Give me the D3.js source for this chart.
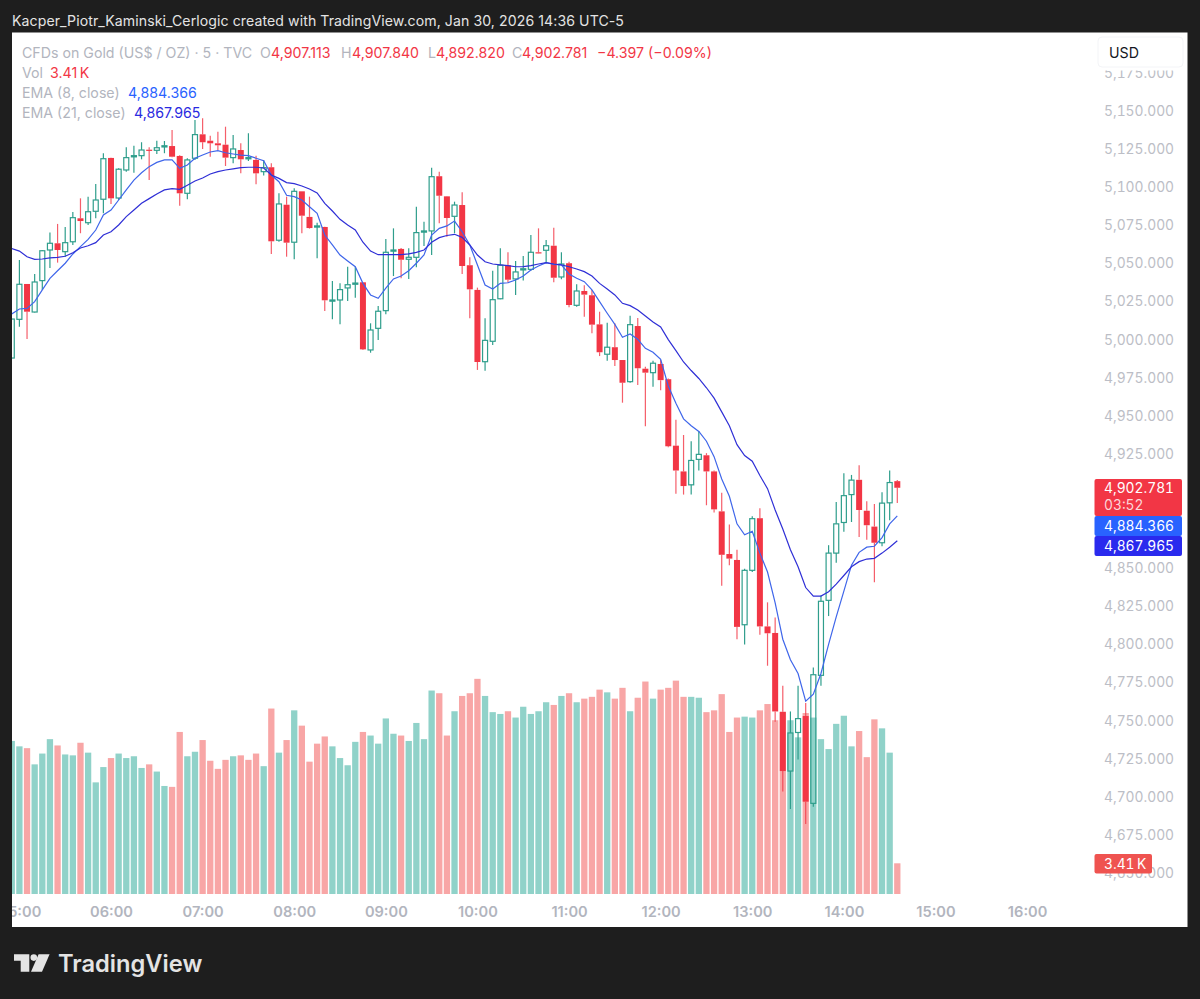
<!DOCTYPE html>
<html><head><meta charset="utf-8">
<script src="https://cdn.jsdelivr.net/npm/d3@7/dist/d3.min.js"></script>
<style>html,body{margin:0;padding:0;background:#1e1e1e;overflow:hidden}svg{display:block}text{font-family:Inter,"Noto Sans",sans-serif}.tn{font-variant-numeric:tabular-nums}</style>
</head><body><svg id="c" width="1200" height="999"></svg>
<script>
const firstBar=-1;
const opens=[4987.9,5013.3,5036.5,5018.1,5038.7,5058.8,5063.2,5057.7,5064.2,5079.6,5076.7,5084.2,5092.1,5119.2,5092.9,5111.3,5120.0,5120.7,5124.6,5124.2,5126.8,5127.0,5120.5,5096.0,5119.0,5134.7,5130.5,5128.8,5127.9,5119.4,5124.4,5119.0,5117.9,5110.2,5113.1,5065.2,5088.5,5063.9,5097.3,5080.5,5073.9,5073.9,5025.3,5026.0,5033.9,5036.5,5037.6,4993.2,5007.4,5019.0,5058.1,5059.5,5052.7,5054.0,5070.6,5071.3,5107.2,5094.0,5080.9,5088.3,5048.8,5032.6,4985.5,4998.9,5026.8,5048.8,5039.8,5046.1,5046.1,5057.3,5058.6,5061.6,5041.1,5050.1,5022.5,5031.9,5029.1,5010.0,4990.4,4995.0,4986.6,4972.4,5008.9,4980.9,4978.3,4984.0,4974.0,4930.4,4913.5,4904.7,4921.4,4924.1,4913.5,4887.3,4859.3,4855.4,4812.9,4848.6,4882.8,4811.8,4807.5,4755.8,4716.9,4742.2,4753.0,4695.7,4779.7,4828.9,4859.9,4880.0,4898.3,4908.0,4887.7,4877.3,4866.7,4892.9,4907.113];
const closes=[5013.5,5036.3,5018.3,5037.8,5058.3,5063.2,5058.8,5063.6,5080.0,5077.8,5083.9,5091.6,5118.7,5092.7,5111.8,5119.4,5120.7,5124.4,5124.1,5125.9,5127.2,5120.0,5096.0,5117.9,5134.5,5129.5,5128.8,5127.5,5119.4,5125.1,5118.3,5119.4,5109.1,5112.8,5064.5,5089.0,5063.6,5097.3,5081.3,5073.2,5074.6,5025.8,5026.0,5032.8,5036.0,5037.1,4993.6,5006.3,5018.6,5057.3,5058.8,5052.4,5054.0,5070.2,5071.3,5106.9,5094.4,5079.8,5088.3,5048.3,5033.0,4985.3,4999.5,5026.2,5048.8,5039.3,5044.4,5046.5,5057.3,5056.6,5061.6,5040.6,5049.6,5022.7,5031.9,5029.5,5009.8,4991.7,4995.0,4986.6,4971.7,5009.8,4981.2,4978.3,4984.5,4973.4,4930.0,4914.1,4903.9,4920.7,4924.7,4913.5,4888.6,4858.8,4856.3,4811.5,4848.6,4882.5,4811.8,4807.3,4756.0,4716.9,4741.9,4751.3,4696.8,4780.1,4828.3,4859.9,4879.1,4897.6,4907.8,4888.2,4878.2,4866.7,4892.7,4906.2,4902.781];
const highs=[5013.5,5052.2,5036.5,5043.1,5058.8,5070.2,5075.9,5073.9,5083.7,5092.7,5093.8,5102.1,5122.3,5119.4,5112.4,5126.2,5127.2,5129.5,5126.2,5130.5,5130.3,5137.5,5120.9,5119.0,5144.1,5145.2,5133.8,5136.4,5139.7,5134.3,5128.8,5135.4,5120.7,5117.9,5115.7,5096.0,5093.8,5099.3,5097.3,5093.8,5076.7,5074.1,5038.5,5037.0,5047.8,5047.8,5037.6,5010.7,5022.1,5066.0,5073.0,5060.1,5059.9,5087.2,5077.4,5112.8,5110.2,5094.2,5090.5,5096.7,5054.0,5034.1,5014.0,5045.2,5059.9,5057.3,5051.6,5054.9,5068.6,5073.0,5065.4,5073.4,5057.3,5051.1,5036.3,5035.6,5032.6,5018.3,5011.1,5010.7,4986.6,5015.7,5014.2,4982.2,4986.2,4986.6,4974.5,4947.4,4937.4,4933.3,4940.1,4925.5,4914.1,4899.5,4878.7,4862.1,4849.7,4884.1,4889.3,4827.6,4817.7,4772.9,4756.0,4772.9,4761.6,4784.9,4832.1,4865.1,4893.4,4912.3,4911.2,4917.5,4894.0,4892.2,4899.9,4914.1,4907.84];
const lows=[4987.9,5008.5,5000.4,5017.8,5032.6,5047.0,5050.5,5054.4,5062.1,5069.8,5075.2,5079.6,5082.9,5089.0,5091.6,5110.2,5109.5,5118.3,5104.7,5121.8,5122.3,5119.6,5087.9,5092.1,5117.9,5125.1,5120.0,5124.4,5113.9,5115.7,5109.1,5117.2,5101.9,5107.6,5056.2,5064.2,5054.4,5052.7,5069.8,5072.8,5053.4,5018.8,5013.3,5010.0,5025.3,5027.5,4993.2,4991.4,4999.7,5016.6,5041.7,5040.2,5039.8,5047.5,5061.4,5055.5,5076.3,5067.5,5069.8,5043.1,5014.0,4980.1,4979.6,4996.5,5026.5,5037.3,5029.3,5038.7,5045.2,5056.5,5050.1,5037.6,5039.6,5021.2,5021.6,5015.0,5004.1,4989.2,4986.2,4982.7,4958.6,4971.7,4970.2,4943.1,4969.1,4966.8,4929.3,4898.8,4898.3,4898.3,4914.1,4891.3,4886.6,4838.5,4852.0,4803.4,4800.0,4847.5,4806.4,4786.0,4749.2,4703.4,4692.0,4724.4,4682.1,4693.4,4772.9,4818.6,4853.6,4873.9,4880.3,4870.5,4868.7,4840.7,4864.4,4881.4,4892.82];
const volumes=[17.0,16.4,16.2,14.4,15.6,17.2,16.5,15.5,15.4,16.8,15.7,12.4,14.1,15.1,15.6,15.1,15.3,14.0,14.4,13.6,12.0,11.9,18.0,15.3,15.8,17.1,14.8,13.9,14.9,15.3,15.4,14.9,15.6,14.2,20.6,15.7,17.1,20.4,18.7,14.7,16.7,17.5,16.4,15.1,14.3,16.9,18.0,17.6,16.7,19.5,17.8,17.6,17.0,19.0,17.2,22.6,22.3,17.6,20.3,22.0,22.3,23.9,22.0,20.2,20.0,20.3,19.6,20.8,20.0,20.3,21.3,21.0,22.0,22.3,21.3,21.7,21.9,22.7,22.4,21.7,22.9,20.3,21.8,23.6,21.7,22.7,22.9,23.7,21.9,21.9,21.8,20.2,20.4,22.2,18.0,19.6,19.7,19.6,20.4,21.1,19.3,20.2,19.3,17.4,20.1,19.6,17.2,16.1,18.9,19.8,16.4,18.1,15.2,19.4,18.4,15.7,3.41];
const volumeDownBars=[1,5,8,12,17,20,21,24,25,26,27,29,30,31,33,35,37,38,39,40,45,50,55,56,58,59,60,64,70,72,74,75,76,78,79,81,82,84,85,86,87,90,91,92,93,94,97,98,99,100,103,110,111,112,115];
const ema8=[5016.8,5020.1,5020.5,5024.9,5032.6,5040.2,5045.2,5050.1,5056.2,5061.0,5065.8,5071.9,5081.8,5085.0,5091.6,5098.2,5104.7,5109.5,5113.5,5116.3,5117.9,5117.9,5112.4,5114.6,5119.0,5121.1,5123.1,5124.0,5122.6,5121.8,5121.1,5120.7,5119.0,5117.4,5108.0,5103.6,5094.7,5093.8,5091.6,5087.2,5082.9,5068.6,5062.1,5055.5,5051.6,5047.8,5036.9,5029.3,5027.1,5033.7,5039.8,5041.7,5045.2,5050.1,5055.5,5068.6,5073.0,5074.6,5077.8,5070.8,5062.1,5049.0,5035.8,5033.2,5036.9,5037.3,5039.1,5041.7,5045.7,5048.3,5050.5,5049.4,5049.0,5043.1,5040.2,5038.0,5032.6,5024.9,5017.3,5010.0,5001.5,5003.7,5000.2,4994.3,4991.7,4987.1,4969.6,4958.2,4948.0,4943.5,4939.7,4933.3,4923.2,4908.5,4897.2,4879.1,4871.9,4874.2,4859.9,4847.5,4827.2,4803.4,4789.9,4780.9,4762.7,4767.3,4780.9,4800.0,4818.1,4835.0,4852.0,4860.4,4863.8,4864.4,4870.1,4879.1,4884.366];
const ema21=[5059.7,5058.1,5054.4,5052.7,5052.9,5053.6,5054.0,5054.7,5057.0,5060.1,5061.6,5063.6,5068.6,5070.8,5075.2,5080.7,5085.0,5089.4,5092.5,5095.5,5098.2,5099.0,5098.6,5101.3,5104.1,5106.0,5108.7,5110.2,5111.3,5112.0,5112.8,5113.1,5113.1,5112.6,5108.0,5105.8,5103.0,5102.3,5100.8,5098.8,5096.2,5089.4,5084.4,5078.9,5075.2,5071.9,5063.9,5058.1,5055.7,5055.7,5055.7,5055.8,5056.2,5057.2,5058.8,5063.9,5066.9,5068.3,5069.1,5067.1,5062.1,5055.5,5051.1,5049.6,5049.0,5048.5,5047.8,5047.9,5048.5,5049.6,5050.5,5049.6,5049.0,5047.8,5046.3,5044.6,5041.7,5036.9,5033.2,5029.3,5023.8,5022.3,5019.4,5015.5,5011.6,5008.3,5000.0,4992.8,4985.3,4979.7,4974.5,4968.4,4961.6,4952.6,4943.5,4931.1,4923.9,4920.2,4910.8,4902.2,4888.2,4875.7,4862.1,4850.9,4837.3,4831.7,4831.7,4834.6,4839.6,4845.2,4850.9,4854.3,4856.0,4856.5,4859.9,4863.8,4867.965];
const priceTicks=[4650,4675,4700,4725,4750,4775,4800,4825,4850,4925,4950,4975,5000,5025,5050,5075,5100,5125,5150,5175];
const timeTickBars=[0,12,24,36,48,60,72,84,96,108,120,132];
const timeTickLabels=["05:00","06:00","07:00","08:00","09:00","10:00","11:00","12:00","13:00","14:00","15:00","16:00"];
const headerText="Kacper_Piotr_Kaminski_Cerlogic created with TradingView.com, Jan 30, 2026 14:36 UTC-5";
const GREY="#b2b5be",UP="#2f9e8c",DOWN="#f23645",EMA8C="#3f66ea",EMA21C="#2f2fd6",VUP="#90d2c9",VDOWN="#f8a6a6";

const svg=d3.select("#c");
const x=d3.scaleLinear().domain([0,115]).range([19.4,897.3]);
const y=d3.scaleLinear().domain([4650,5150]).range([873,111]);
const vol=d3.scaleLinear().domain([0,3.41]).range([894,863.3]);
const bars=d3.range(opens.length).map(k=>({i:k+firstBar,o:opens[k],h:highs[k],l:lows[k],c:closes[k],v:volumes[k],down:volumeDownBars.includes(k+firstBar)}));

svg.append("rect").attr("x",0).attr("y",0).attr("width",1200).attr("height",999).attr("fill","#1e1e1e");
svg.append("rect").attr("x",12).attr("y",32.5).attr("width",1175.5).attr("height",894.5).attr("fill","#fff");
const defs=svg.append("defs");
defs.append("clipPath").attr("id","pane").append("rect").attr("x",12).attr("y",32).attr("width",1176).attr("height",895);
const pane=svg.append("g").attr("clip-path","url(#pane)");

svg.append("text").attr("x",12).attr("y",26).attr("fill","#e4e4e4").attr("font-size",14.1).attr("letter-spacing",0.085).text(headerText);

// axes
const yAxis=d3.axisRight(y).tickValues(priceTicks).tickFormat(d3.format(",.3f")).tickSize(0).tickPadding(0);
const yg=pane.append("g").attr("transform","translate(1104,0)").call(yAxis);
yg.select(".domain").remove();
yg.selectAll("text").attr("class","tn").attr("fill","#bcbec6").attr("font-size",13.8).attr("font-family","Inter");
const xAxis=d3.axisBottom(x).tickValues(timeTickBars).tickFormat((d,k)=>timeTickLabels[k]).tickSize(0).tickPadding(0);
const xg=pane.append("g").attr("transform","translate(0,907)").call(xAxis);
xg.select(".domain").remove();
xg.selectAll("text").attr("fill","#b2b5be").attr("font-size",14.6).attr("font-weight",600).attr("font-family","Inter");

// volume
pane.selectAll("rect.v").data(bars).join("rect").attr("class","v")
 .attr("x",d=>x(d.i)-3.15).attr("width",6.3).attr("y",d=>vol(d.v)).attr("height",d=>894-vol(d.v))
 .attr("fill",d=>d.down?VDOWN:VUP);

// wicks & bodies
const cg=pane.append("g");
bars.forEach(d=>{
 const up=d.c>=d.o, col=up?UP:DOWN;
 const top=Math.max(d.o,d.c), bot=Math.min(d.o,d.c);
 const w=cg.append("g");
 [[d.h,top],[bot,d.l]].forEach(s=>{
  w.append("line").attr("x1",x(d.i)).attr("x2",x(d.i)).attr("y1",y(s[0])).attr("y2",y(s[1]))
   .attr("stroke",col).attr("stroke-width",1.2).attr("stroke-opacity",up?1:.8);
 });
 const yt=y(top), h=Math.max(y(bot)-yt,1.2);
 if(up){
  w.append("rect").attr("x",x(d.i)-2.5).attr("width",5).attr("y",yt).attr("height",h).attr("fill","none").attr("stroke",col).attr("stroke-width",1.2);
 }else{
  w.append("rect").attr("x",x(d.i)-3).attr("width",6).attr("y",yt).attr("height",h).attr("fill",col);
 }
});

// EMA lines
const line=d3.line().x((d,k)=>x(k+firstBar)).y(d=>y(d));
pane.append("path").attr("d",line(ema8)).attr("fill","none").attr("stroke",EMA8C).attr("stroke-width",1.2);
pane.append("path").attr("d",line(ema21)).attr("fill","none").attr("stroke",EMA21C).attr("stroke-width",1.2);

// legend
const lg=svg.append("g").attr("font-size",14.2);
function t(px,py,s,c){return lg.append("text").attr("x",px).attr("y",py).attr("fill",c).text(s);}
t(22,58,"CFDs on Gold (US$ / OZ) · 5 · TVC",GREY);
t(260,58,"O",GREY);t(271,58,"4,907.113",DOWN);
t(341,58,"H",GREY);t(352,58,"4,907.840",DOWN);
t(428,58,"L",GREY);t(436,58,"4,892.820",DOWN);
t(512,58,"C",GREY);t(522,58,"4,902.781",DOWN);
t(597,58,"−4.397 (−0.09%)",DOWN);
t(22,78,"Vol",GREY);t(50,78,"3.41\u202fK",DOWN);
t(22,98,"EMA (8, close)",GREY);t(128,98,"4,884.366","#2962ff");
t(22,118,"EMA (21, close)",GREY);t(134,118,"4,867.965","#2a2ae0");

// USD box
svg.append("rect").attr("x",1094).attr("y",36).attr("width",92).attr("height",34.5).attr("fill","#fff");
svg.append("rect").attr("x",1098).attr("y",37).attr("width",85).attr("height",30).attr("rx",4).attr("fill","#fff").attr("stroke","#f3f4f7");
svg.append("text").attr("x",1109).attr("y",58).attr("font-size",14.2).attr("fill","#131722").text("USD");

// price labels
function lab(px,py,w,h,bg){return svg.append("rect").attr("x",px).attr("y",py).attr("width",w).attr("height",h).attr("rx",2).attr("fill",bg);}
lab(1094.5,479,87.5,37,DOWN);
lab(1094.5,516,87.5,20,"#2962ff");
lab(1094.5,536,87.5,20,"#2a2aee");
lab(1094.5,854,57.5,19.5,"#ef5350");
function lt(py,s,c){svg.append("text").attr("class","tn").attr("x",1104).attr("y",py).attr("font-size",13.8).attr("fill",c).text(s);}
lt(493,"4,902.781","#fff");lt(510,"03:52","#fcd5d8");
lt(531,"4,884.366","#fff");lt(551,"4,867.965","#fff");
lt(869,"3.41\u202fK","#fff");

// logo
const logo=svg.append("g").attr("fill","#e4e4e4");
logo.append("path").attr("d","M14 954.3H29.3V971.7H20.7V960.8H14Z");
logo.append("circle").attr("cx",33.8).attr("cy",957.6).attr("r",3.3);
logo.append("path").attr("d","M38.6 954.3H49.6L42 971.7H31Z");
svg.append("text").attr("x",58).attr("y",972).attr("font-size",23.7).attr("font-weight",600).attr("fill","#e4e4e4").text("TradingView");
</script></body></html>
